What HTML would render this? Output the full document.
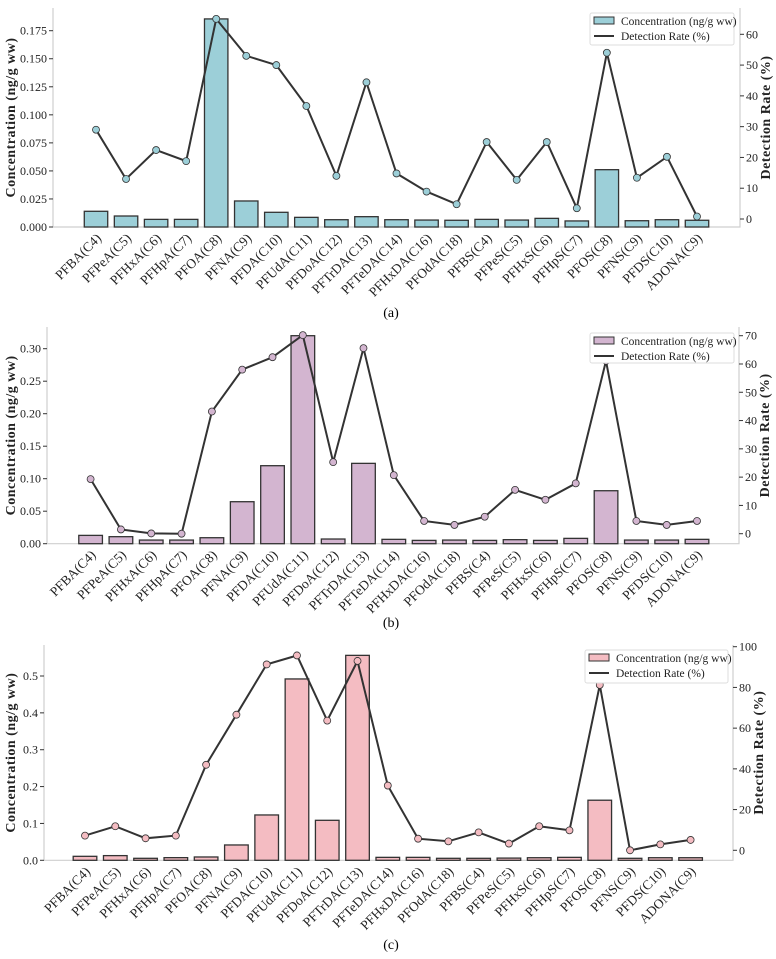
<!DOCTYPE html>
<html><head><meta charset="utf-8">
<style>
html,body{margin:0;padding:0;background:#fff;}
svg{display:block;font-family:"Liberation Serif",serif;}
</style></head>
<body>
<svg id="fig" width="776" height="959" viewBox="0 0 776 959" xmlns="http://www.w3.org/2000/svg"></svg>
<script>
const categories = ["PFBA(C4)","PFPeA(C5)","PFHxA(C6)","PFHpA(C7)","PFOA(C8)","PFNA(C9)","PFDA(C10)","PFUdA(C11)","PFDoA(C12)","PFTrDA(C13)","PFTeDA(C14)","PFHxDA(C16)","PFOdA(C18)","PFBS(C4)","PFPeS(C5)","PFHxS(C6)","PFHpS(C7)","PFOS(C8)","PFNS(C9)","PFDS(C10)","ADONA(C9)"];
const concA = [0.014,0.0098,0.0068,0.0068,0.1855,0.0232,0.0131,0.0086,0.0065,0.0092,0.0065,0.0062,0.006,0.0068,0.0062,0.0077,0.0054,0.0511,0.0056,0.0065,0.006];
const rateA = [29,13,22.4,18.8,65,53,50,36.7,14,44.4,14.8,8.9,4.8,25,12.7,25,3.5,54,13.4,20.2,0.8];
const concB = [0.0128,0.0108,0.0056,0.0056,0.0092,0.0646,0.12,0.32,0.0072,0.1236,0.0067,0.0051,0.0056,0.0051,0.0062,0.0051,0.0082,0.0815,0.0056,0.0056,0.0067];
const rateB = [19.3,1.5,0.1,0,43.2,58,62.4,70.2,25.3,65.6,20.7,4.5,3.1,6,15.5,12,17.8,61.1,4.5,3.1,4.5];
const concC = [0.0108,0.0127,0.0054,0.0072,0.009,0.0416,0.123,0.492,0.1085,0.556,0.008,0.008,0.0054,0.0054,0.006,0.007,0.008,0.163,0.0054,0.007,0.007];
const rateC = [7.2,11.8,5.9,7.2,42,66.6,91.3,95.7,63.7,93,31.8,5.7,4.4,8.8,3.3,11.8,9.8,81.2,0,2.9,5.1];
const leftTicksA = [0,0.025,0.05,0.075,0.1,0.125,0.15,0.175];
const leftLabelsA = ["0.000","0.025","0.050","0.075","0.100","0.125","0.150","0.175"];
const rightTicksA = [0,10,20,30,40,50,60];
const leftTicksB = [0,0.05,0.1,0.15,0.2,0.25,0.3];
const leftLabelsB = ["0.00","0.05","0.10","0.15","0.20","0.25","0.30"];
const rightTicksB = [0,10,20,30,40,50,60,70];
const leftTicksC = [0,0.1,0.2,0.3,0.4,0.5];
const leftLabelsC = ["0.0","0.1","0.2","0.3","0.4","0.5"];
const rightTicksC = [0,20,40,60,80,100];

const NS="http://www.w3.org/2000/svg";
const svg=document.getElementById('fig');
function mk(tag,attrs,parent){const e=document.createElementNS(NS,tag);for(const k in attrs)e.setAttribute(k,attrs[k]);(parent||svg).appendChild(e);return e;}

const panels=[
 {id:'a',conc:concA,rate:rateA,lt:leftTicksA,ll:leftLabelsA,rt:rightTicksA,color:'#9ccfd8',
  left:53,right:740,top:8,bottom:227,x0:96,x1:697,cMax:0.175,cMaxY:30.7,rMax:60,rMaxY:34.3,rZeroY:219,
  leg:[590,13,734,45],cap:'(a)',capY:317},
 {id:'b',conc:concB,rate:rateB,lt:leftTicksB,ll:leftLabelsB,rt:rightTicksB,color:'#d3b5d0',
  left:47,right:739,top:327,bottom:543.7,x0:90.6,x1:697,cMax:0.3,cMaxY:348.7,rMax:70,rMaxY:335.7,rZeroY:533.7,
  leg:[590,333,734,363],cap:'(b)',capY:627},
 {id:'c',conc:concC,rate:rateC,lt:leftTicksC,ll:leftLabelsC,rt:rightTicksC,color:'#f4bcc2',
  left:44,right:733,top:645,bottom:860.3,x0:85,x1:690.6,cMax:0.5,cMaxY:676,rMax:100,rMaxY:646.7,rZeroY:850.3,
  leg:[585,650,728,683],cap:'(c)',capY:949}
];

panels.forEach(p=>{
  const g=mk('g',{});
  
  
  const n=categories.length;
  const step=(p.x1-p.x0)/(n-1);
  const xs=i=>p.x0+i*step;
  const yc=v=>p.bottom-(v/p.cMax)*(p.bottom-p.cMaxY);
  const yr=v=>p.rZeroY-(v/p.rMax)*(p.rZeroY-p.rMaxY);
  const bw=step*0.78;
  const sp=mk('path',{d:`M${p.left},${p.top}V${p.bottom}H${p.right}V${p.top}`,fill:'none',stroke:'#cfcfcf','stroke-width':1.2},g);
  
  
  p.lt.forEach((t,i)=>{
    const y=yc(t);
    mk('line',{x1:p.left-4,x2:p.left,y1:y,y2:y,stroke:'#333','stroke-width':1},g);
    const tx=mk('text',{x:p.left-6,y:y+4,'text-anchor':'end','font-size':12,fill:'#222'},g);
    tx.textContent=p.ll[i];
    
    
  });
  p.rt.forEach(t=>{
    const y=yr(t);
    mk('line',{x1:p.right,x2:p.right+4,y1:y,y2:y,stroke:'#333','stroke-width':1},g);
    const tx=mk('text',{x:p.right+6,y:y+4,'font-size':12,fill:'#222'},g);
    tx.textContent=String(t);
    
    
  });
  p.conc.forEach((v,i)=>{
    const y=yc(v);
    const r=mk('rect',{x:xs(i)-bw/2,y:y,width:bw,height:p.bottom-y,fill:p.color,stroke:'#333','stroke-width':1.3},g);
    
    
  });
  const pts=p.rate.map((v,i)=>xs(i).toFixed(1)+','+yr(v).toFixed(1)).join(' ');
  const pl=mk('polyline',{points:pts,fill:'none',stroke:'#333','stroke-width':2},g);
  
  
  p.rate.forEach((v,i)=>{
    const c=mk('circle',{cx:xs(i),cy:yr(v),r:3.5,fill:p.color,stroke:'#333','stroke-width':0.8},g);
    
    
  });
  categories.forEach((c,i)=>{
    const x=xs(i)+6, y=p.bottom+12;
    const t=mk('text',{x:x,y:y,'text-anchor':'end','font-size':13.5,fill:'#222',transform:`rotate(-45 ${x} ${y})`},g);
    t.textContent=c;
    
    
  });
  const mid=(p.top+p.bottom)/2;
  const lt=mk('text',{x:15,y:mid,'text-anchor':'middle','font-size':14,'font-weight':'bold',fill:'#222','letter-spacing':'0.5',transform:`rotate(-90 15 ${mid})`},g);
  lt.textContent='Concentration (ng/g ww)';
  
  
  const rx=p.right+30;
  const rtt=mk('text',{x:rx,y:mid,'text-anchor':'middle','font-size':14,'font-weight':'bold',fill:'#222','letter-spacing':'0.5',transform:`rotate(-90 ${rx} ${mid})`},g);
  rtt.textContent='Detection Rate (%)';
  
  
  const [lx0,ly0,lx1,ly1]=p.leg;
  const lg=mk('g',{},g);
  
  
  mk('rect',{x:lx0,y:ly0,width:lx1-lx0,height:ly1-ly0,fill:'#fff',stroke:'#ddd','stroke-width':1,rx:2},lg);
  const e1=mk('rect',{x:lx0+4,y:ly0+4,width:20,height:7,fill:p.color,stroke:'#333','stroke-width':1},lg);
  
  
  const t1=mk('text',{x:lx0+31,y:ly0+12,'font-size':11.5,fill:'#222'},lg);
  t1.textContent='Concentration (ng/g ww)';
  const e2=mk('line',{x1:lx0+4,x2:lx0+24,y1:ly0+23,y2:ly0+23,stroke:'#333','stroke-width':2},lg);
  
  
  const t2=mk('text',{x:lx0+31,y:ly0+27,'font-size':11.5,fill:'#222'},lg);
  t2.textContent='Detection Rate (%)';
  const cp=mk('text',{x:391,y:p.capY,'text-anchor':'middle','font-size':14,fill:'#000'},g);
  cp.textContent=p.cap;
  
  
});
</script>
</body></html>
